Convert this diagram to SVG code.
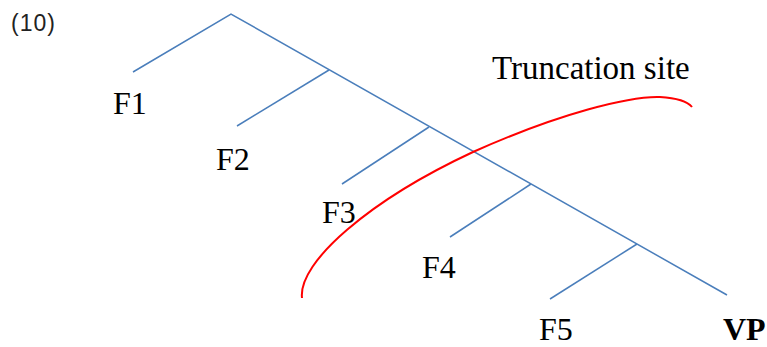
<svg xmlns="http://www.w3.org/2000/svg" width="767" height="347" viewBox="0 0 767 347">
<style>
.br{stroke:#4a7ebb;stroke-width:1.5;fill:none}
.lb{font-family:"Liberation Serif",serif;font-size:32px;fill:#000}
</style>
<rect width="767" height="347" fill="#fff"/>
<text x="11" y="31" style="font-family:'Liberation Sans',sans-serif;font-size:23px;fill:#222;letter-spacing:1px">(10)</text>
<g id="connectors">
<path class="br" d="M133,72 L231,14 L727,295"/>
<path class="br" d="M329,70 L237,126"/>
<path class="br" d="M429,127 L342,184"/>
<path class="br" d="M531,184 L450,237"/>
<path class="br" d="M637,244 L550,299"/>
</g>
<g id="truncation">
<path d="M302,298 C298,262 370,200 473,152 C560,113 630,96 660,97 C677,98 688,102 692,107" fill="none" stroke="#ff0000" stroke-width="2"/>
<text class="lb" x="492" y="79" style="font-size:33px">Truncation site</text>
</g>
<g id="F1"><text class="lb" x="113" y="114">F1</text></g>
<g id="F2"><text class="lb" x="216" y="170">F2</text></g>
<g id="F3"><text class="lb" x="322" y="223">F3</text></g>
<g id="F4"><text class="lb" x="422" y="278">F4</text></g>
<g id="F5"><text class="lb" x="539" y="340">F5</text></g>
<g id="VP"><text class="lb" x="723" y="340" style="font-weight:bold">VP</text></g>
</svg>
